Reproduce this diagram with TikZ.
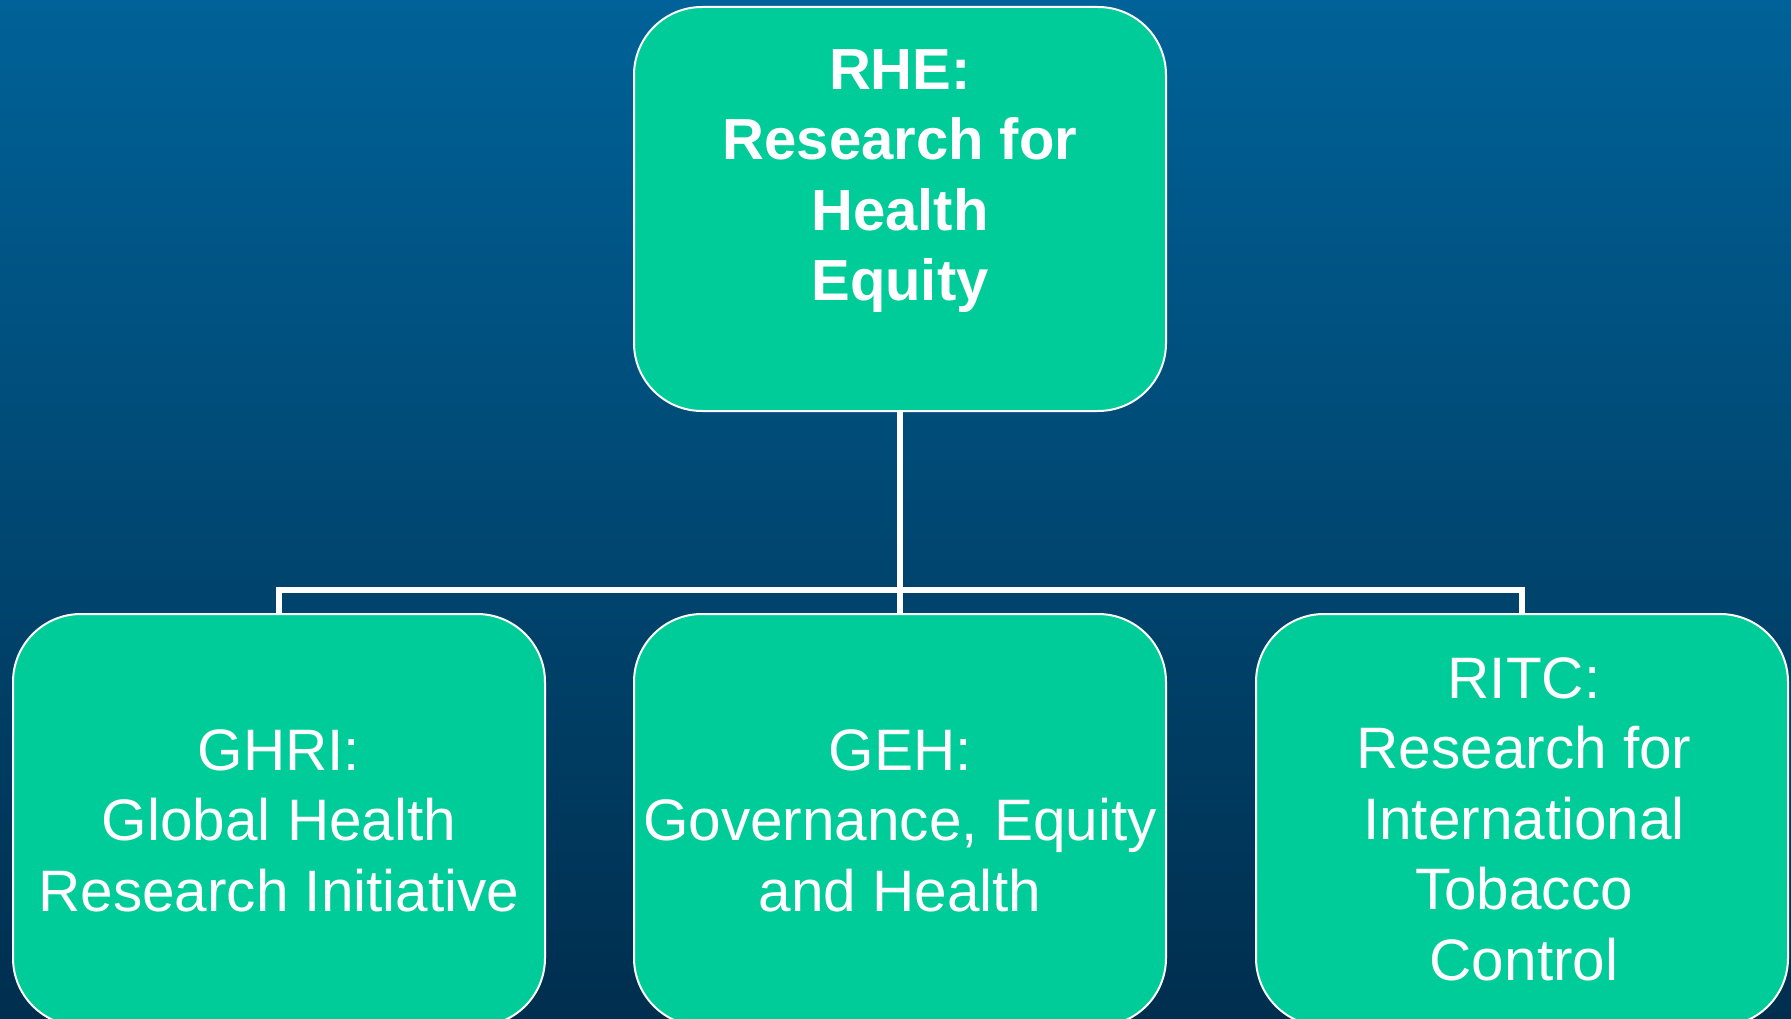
\documentclass[tikz,border=0pt]{standalone}
\usepackage{fontspec}
\setmainfont{Liberation Sans}
\usetikzlibrary{positioning}

\definecolor{bgtop}{RGB}{0,98,152}
\definecolor{bgbottom}{RGB}{0,46,78}
\definecolor{unitgreen}{RGB}{0,204,153}

\tikzset{
	unit/.style={draw=white, line width=2pt, fill=unitgreen, rounded corners=68pt,
		minimum width=532pt, minimum height=404pt, inner sep=0pt},
	headtext/.style={text=white, font=\fontsize{58}{70.6}\selectfont\bfseries,
		align=center, anchor=north, inner sep=0pt},
	subtext/.style={text=white, font=\fontsize{58.5}{70.6}\selectfont,
		align=center, anchor=north, inner sep=0pt},
	link/.style={draw=white, line width=6pt}
}

\begin{document}
\begin{tikzpicture}[x=1pt,y=-1pt]
					%Background
					\shade[top color=bgtop, bottom color=bgbottom] (0,0) rectangle (1791,1019);
					\useasboundingbox (0,0) rectangle (1791,1019);

					%Nodes
					\node[unit] 			(rhe) 	at 	(900,209) {};
					\node[unit, minimum height=412pt] 	(ghri) 	at 	(279,820) {};
					\node[unit, minimum height=412pt] 	(geh) 	at 	(900,820) {};
					\node[unit, minimum height=412pt] 	(ritc) 	at 	(1522,820) {};
					\coordinate 	(bus) 	at 	(900,590);

					%Texts
					\node[headtext] (rhe-t) 	at 	(900,49) {RHE:\\Research for\\Health\\Equity};
					\node[subtext] 	(ghri-t) 	at 	(279,729) {GHRI:\\Global Health\\Research Initiative};
					\node[subtext] 	(geh-t) 	at 	(900,729) {GEH:\\Governance, Equity\\and Health};
					\node[subtext] 	(ritc-t) 	at 	(1524,657) {RITC:\\Research for\\International\\Tobacco\\Control};

					%Lines
					\draw[link] (rhe.south) -- (bus);
					\draw[link] (ghri.north) |- (bus) -| (ritc.north);
					\draw[link] (bus) -- (geh.north);
\end{tikzpicture}
\end{document}
